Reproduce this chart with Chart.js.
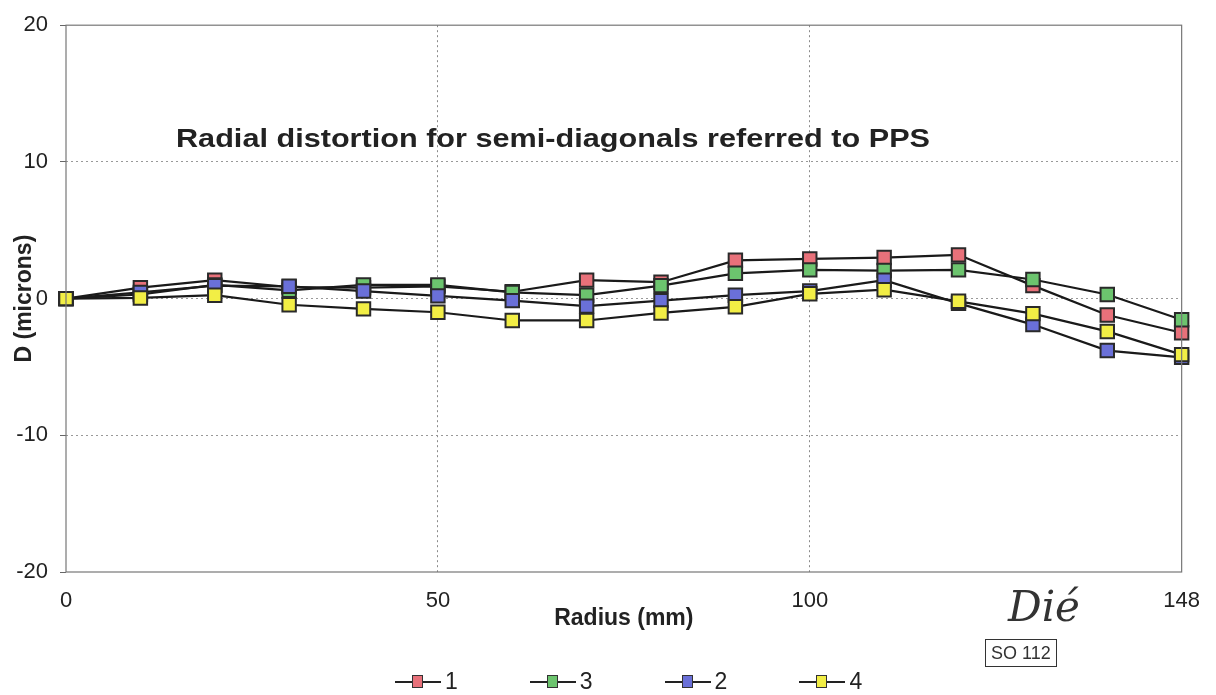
<!DOCTYPE html>
<html>
<head>
<meta charset="utf-8">
<script src="https://cdn.jsdelivr.net/npm/chart.js@4.4.0/dist/chart.umd.min.js"></script>
<style>
  body { margin: 0; background: #fff; font-family: "Liberation Sans", Arial, sans-serif; }
  #wrap { position: relative; width: 1216px; height: 695px; }
  #legend { position: absolute; left: 395px; top: 668px; display: flex; gap: 72px; }
  .item { display: flex; align-items: center; font-size: 23px; color: #222; }
  .mark { position: relative; width: 46px; height: 2px; background: #222; margin-right: 4px; }
  .mark span { position: absolute; left: 17px; top: -6px; width: 9px; height: 11px; border: 1.5px solid #333; }
  #stamp { position: absolute; left: 985px; top: 639px; border: 1.5px solid #333; padding: 0 5px; font-size: 18px; color: #333; line-height: 26px; }
  #sign { position: absolute; left: 1008px; top: 582px; font: italic 42px "DejaVu Serif", serif; color: #333; }
</style>
</head>
<body>
<div id="wrap">
  <canvas id="chart" width="1216" height="695"></canvas>
  <div id="legend"></div>
  <div id="sign">Dié</div>
  <div id="stamp">SO 112</div>
</div>
<script>
// radius values (mm) along the semi-diagonals
const radius = [0, 10, 20, 30, 40, 50, 60, 70, 80, 90, 100, 110, 120, 130, 140, 148];
const shownTicks = [0, 50, 100, 148];
const yTicks = [-20, -10, 0, 10, 20];

// D (microns) for each semi-diagonal
const diag1 = [0, 0.8, 1.35, 0.85, 0.8, 0.9, 0.5, 1.35, 1.2, 2.8, 2.9, 3.0, 3.2, 0.95, -1.2, -2.5];
const diag3 = [0, 0.3, 1.0, 0.6, 1.0, 1.0, 0.45, 0.25, 0.95, 1.85, 2.1, 2.05, 2.1, 1.4, 0.3, -1.55];
const diag2 = [0, 0.45, 0.95, 0.9, 0.55, 0.2, -0.15, -0.55, -0.15, 0.25, 0.55, 1.35, -0.35, -1.9, -3.8, -4.3];
const diag4 = [0, 0.05, 0.25, -0.45, -0.75, -1.0, -1.6, -1.6, -1.05, -0.6, 0.35, 0.65, -0.2, -1.1, -2.4, -4.1];

const names = ['1', '3', '2', '4'];
const colors = ['#e8717a', '#6cc46e', '#6a70d8', '#f2ee45'];
const series = [diag1, diag3, diag2, diag4];
const drawOrder = [4, 3, 2, 1]; // yellow on top, red at the bottom

const titleText = 'Radial distortion for semi-diagonals referred to PPS';

// frame round the plot area + the title written inside it (stretched a bit, the original face is wider)
const framePlugin = {
  id: 'frame',
  afterDraw(chart) {
    const { ctx, chartArea: a, scales } = chart;
    ctx.save();
    ctx.strokeStyle = '#777';
    ctx.lineWidth = 1.2;
    ctx.strokeRect(a.left, a.top, a.right - a.left, a.bottom - a.top);
    ctx.fillStyle = '#222';
    ctx.font = 'bold 26px "Liberation Sans", Arial, sans-serif';
    ctx.textBaseline = 'middle';
    const w = ctx.measureText(titleText).width;
    const sx = 754 / w;
    ctx.translate(a.left + 110, scales.y.getPixelForValue(11.6));
    ctx.scale(sx, 1);
    ctx.fillText(titleText, 0, 0);
    ctx.restore();
  }
};

const ctx = document.getElementById('chart').getContext('2d');
new Chart(ctx, {
  type: 'line',
  data: {
    labels: radius,
    datasets: series.map((d, i) => ({
      label: names[i],
      data: d,
      order: drawOrder[i],
      borderColor: '#1a1a1a',
      borderWidth: 2.2,
      backgroundColor: colors[i],
      pointStyle: 'rect',
      pointRadius: 9.5,
      pointBorderWidth: 2,
      pointBorderColor: '#2a2a2a',
      pointBackgroundColor: colors[i],
      tension: 0
    }))
  },
  options: {
    responsive: false,
    animation: false,
    layout: { padding: { left: 0, right: 30, top: 20, bottom: 47 } },
    plugins: {
      legend: { display: false },
      tooltip: { enabled: false }
    },
    scales: {
      x: {
        type: 'category',
        offset: false,
        afterFit: s => { s.height = 76; },
        grid: {
          drawTicks: false,
          color: c => (c.index === 5 || c.index === 10) ? '#8a8a8a' : 'rgba(0,0,0,0)',
          lineWidth: 1
        },
        border: { display: false, dash: [2, 3] },
        ticks: {
          autoSkip: false,
          maxRotation: 0,
          padding: 16,
          color: '#222',
          font: { family: '"Liberation Sans", Arial, sans-serif', size: 22 },
          callback: function(v, i) {
            const lab = radius[i];
            return shownTicks.includes(lab) ? String(lab) : '';
          }
        },
        title: {
          display: true,
          text: 'Radius (mm)',
          color: '#222',
          font: { family: '"Liberation Sans", Arial, sans-serif', size: 23, weight: 'bold' },
          padding: { top: 0, bottom: 16 }
        }
      },
      y: {
        min: -20,
        max: 20,
        afterFit: s => { s.width = 66; },
        afterBuildTicks: s => { s.ticks = yTicks.map(v => ({ value: v })); },
        grid: {
          drawTicks: true,
          tickLength: 6,
          tickColor: '#666',
          color: c => (c.tick && Math.abs(c.tick.value) === 20) ? 'rgba(0,0,0,0)' : '#999',
          lineWidth: 1
        },
        border: { display: false, dash: [2, 3] },
        ticks: {
          padding: 12,
          color: '#222',
          font: { family: '"Liberation Sans", Arial, sans-serif', size: 22 }
        },
        title: {
          display: true,
          text: 'D (microns)',
          color: '#222',
          font: { family: '"Liberation Sans", Arial, sans-serif', size: 23, weight: 'bold' },
          padding: { top: 11, bottom: 0 }
        }
      }
    }
  },
  plugins: [framePlugin]
});

// legend: line with a square marker, in the original order 1, 3, 2, 4
const legend = document.getElementById('legend');
names.forEach((n, i) => {
  const item = document.createElement('div');
  item.className = 'item';
  item.innerHTML = '<div class="mark"><span style="background:' + colors[i] + '"></span></div>' + n;
  legend.appendChild(item);
});
</script>
</body>
</html>
